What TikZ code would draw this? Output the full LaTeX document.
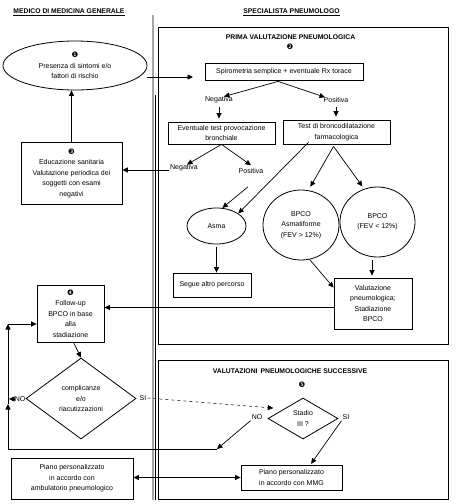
\documentclass[tikz,border=0pt]{standalone}
\usepackage{fontspec}
\setmainfont{Liberation Sans}
\newfontfamily\dvfont{DejaVu Sans}
\usetikzlibrary{arrows.meta,shapes.geometric,calc}
\newcommand{\cnum}[1]{{\dvfont\fontsize{7.5pt}{8pt}\selectfont #1}}
\begin{document}
\begin{tikzpicture}[x=1pt,y=-1pt,
  every node/.style={font=\fontsize{7pt}{10.5pt}\selectfont, align=center, inner sep=1pt},
  rbox/.style={draw, line width=0.8pt, inner sep=0pt},
  oval/.style={ellipse, draw, line width=0.8pt, inner sep=0pt},
  dia/.style={diamond, draw, line width=0.8pt, inner sep=0pt},
  frame/.style={draw, line width=0.9pt},
  arr/.style={line width=0.7pt, -{Triangle[length=5.5pt,width=5pt]}},
  plain/.style={line width=0.7pt},
  hdr/.style={font=\fontsize{6.8pt}{8pt}\selectfont\bfseries},
  num/.style={font=\fontsize{7.5pt}{8pt}\selectfont\dvfont, inner sep=0pt}]
\useasboundingbox (0,0) rectangle (457,504);

% headers
\node[hdr] (h1) at (69,12) {\underline{MEDICO DI MEDICINA GENERALE}};
\node[hdr] (h2) at (291.5,12.5) {\underline{SPECIALISTA PNEUMOLOGO}};

% divider
\draw[line width=1.6pt, gray!70] (153,15) -- (153,500);
\draw[line width=0.5pt] (155.3,95) -- (155.3,500);

% section frames
\draw[frame] (158,27) rectangle (448,344);
\draw[frame] (158,360) rectangle (448,499);
\node[hdr] (t1) at (290.5,37) {PRIMA VALUTAZIONE PNEUMOLOGICA};
\node[num] (n2) at (290,46.5) {❷};
\node[hdr] (t2) at (290,371) {VALUTAZIONI\, PNEUMOLOGICHE SUCCESSIVE};
\node[num] (n5) at (302,385) {❺};

% left column
\node[oval, minimum width=144pt, minimum height=49pt] (E1) at (75,65.5)
  {\cnum{❶}\\Presenza di sintomi e/o\\fattori di rischio};
\node[rbox, minimum width=101pt, minimum height=62pt] (B3) at (71.5,173)
  {\cnum{❸}\\Educazione sanitaria\\Valutazione periodica dei\\soggetti con esami\\negativi};
\node[rbox, minimum width=67pt, minimum height=57pt] (B4) at (70.5,313.5)
  {\cnum{❹}\\Follow-up\\BPCO in base\\alla\\stadiazione};
\node[dia, minimum width=110pt, minimum height=81pt] (D1) at (81,398.5)
  {complicanze\\e/o\\riacutizzazioni};
\node (NOa) at (20,399) {NO};
\node (SIa) at (143,398) {SI};
\node[rbox, minimum width=122pt, minimum height=41pt] (AMB) at (72,478.5)
  {Piano personalizzato\\in accordo con\\ambulatorio pneumologico};

% right column, first frame
\node[rbox, minimum width=158pt, minimum height=17pt] (SP) at (284,71.5)
  {Spirometria semplice + eventuale Rx torace};
\node (N1) at (219,100) {Negativa};
\node (P1) at (336,100) {Positiva};
\node[rbox, minimum width=107pt, minimum height=22pt] (EV) at (221.5,133)
  {Eventuale test provocazione\\bronchiale};
\node[rbox, minimum width=107pt, minimum height=24pt] (TB) at (336.5,132)
  {Test di broncodilatazione\\farmacologica};
\node (N2) at (184,168) {Negativa};
\node (P2) at (251,171) {Positiva};
\node[oval, minimum width=59pt, minimum height=36pt] (AS) at (216.5,226) {Asma};
\node[oval, minimum width=76pt, minimum height=70pt] (BA) at (301,225)
  {BPCO\\Asmatiforme\\(FEV > 12\%)};
\node[oval, minimum width=75pt, minimum height=70pt] (BB) at (377.5,222)
  {BPCO\\(FEV < 12\%)};
\node[rbox, minimum width=78pt, minimum height=24pt] (SE) at (212,285)
  {Segue altro percorso};
\node[rbox, minimum width=78pt, minimum height=51pt] (VA) at (373,303.5)
  {Valutazione\\pneumologica;\\Stadiazione\\BPCO};

% second frame
\node[dia, minimum width=70pt, minimum height=41pt] (D2) at (303,418.5)
  {Stadio\\III ?};
\node (NOb) at (257,417) {NO};
\node (SIb) at (346,417) {SI};
\node[rbox, minimum width=101pt, minimum height=25pt] (MMG) at (291.5,477.5)
  {Piano personalizzato\\in accordo con MMG};

% helper coordinates
\coordinate (A1) at (193,77);
\coordinate (L1) at (8,449);
\coordinate (L2) at (8,324);
\coordinate (L3) at (8,404);
\coordinate (M) at (217,449);

% connectors
\draw[arr] (E1.east|-A1) -- (A1);
\draw[arr] (B3.north) -- (B3.north|-E1.south);
\draw[arr] ([xshift=-6pt,yshift=-1pt]SP.south) -- ([xshift=5pt,yshift=-1pt]N1.north);
\draw[arr] ([xshift=-6pt,yshift=-1pt]SP.south) -- ([xshift=-11pt,yshift=-1pt]P1.north);
\draw[arr] ([yshift=-3pt]N1.south) -- ([yshift=3pt]N1.south|-EV.north);
\draw[arr] ([yshift=-3pt]P1.south) -- ([yshift=3pt]P1.south|-TB.north);
\draw[arr] (EV.south) -- ([xshift=3pt,yshift=-1pt]N2.north);
\draw[arr] (EV.south) -- ([yshift=2pt]P2.north);
\draw[arr] ([yshift=-2pt]N2.west) -- ([yshift=-2pt]N2.west-|B3.east);
\draw[arr] ([xshift=-3pt,yshift=-12pt]P2.south) -- (AS.72);
\draw[arr] ([xshift=-28pt,yshift=2pt]TB.south) -- (AS.30);
\draw[arr, shorten >=4pt] ([xshift=-3pt,yshift=-2pt]TB.south) -- (BA.78);
\draw[arr, shorten >=3pt] ([xshift=-3pt,yshift=-2pt]TB.south) -- (BB.112);
\draw[arr] ([yshift=-3pt]AS.south) -- (AS.south|-SE.north);
\draw[arr] (BA.-76) -- ([yshift=-10pt]VA.north west);
\draw[arr] ([xshift=-1pt,yshift=-3pt]VA.north|-BB.south) -- ([xshift=-1pt,yshift=2pt]VA.north);
\draw[arr] ([yshift=-4pt]VA.west) -- ([yshift=-4pt]VA.west-|B4.east);
\draw[arr] ([xshift=3pt]B4.south) -- (D1.north);
\draw[arr] (NOa.west) -- ([xshift=1pt]NOa.west-|L1);
\draw[arr, dashed, line width=0.5pt] (SIa.east) -- ([xshift=-12pt]D2.north west);
\draw[arr] (NOb.south west) -- (M);
\draw[plain] (M) -- (L1);
\draw[arr] (L1) -- (L3);
\draw[arr] (L3) -- (L2);
\draw[arr] (L2) -- (L2-|B4.west);
\draw[arr, shorten >=1pt] (SIb.south west) -- ([xshift=19pt]MMG.north);
\draw[line width=0.7pt, {Triangle[length=5.5pt,width=5pt]}-{Triangle[length=5.5pt,width=5pt]}]
  (MMG.west) -- (MMG.west-|AMB.east);
\end{tikzpicture}
\end{document}
